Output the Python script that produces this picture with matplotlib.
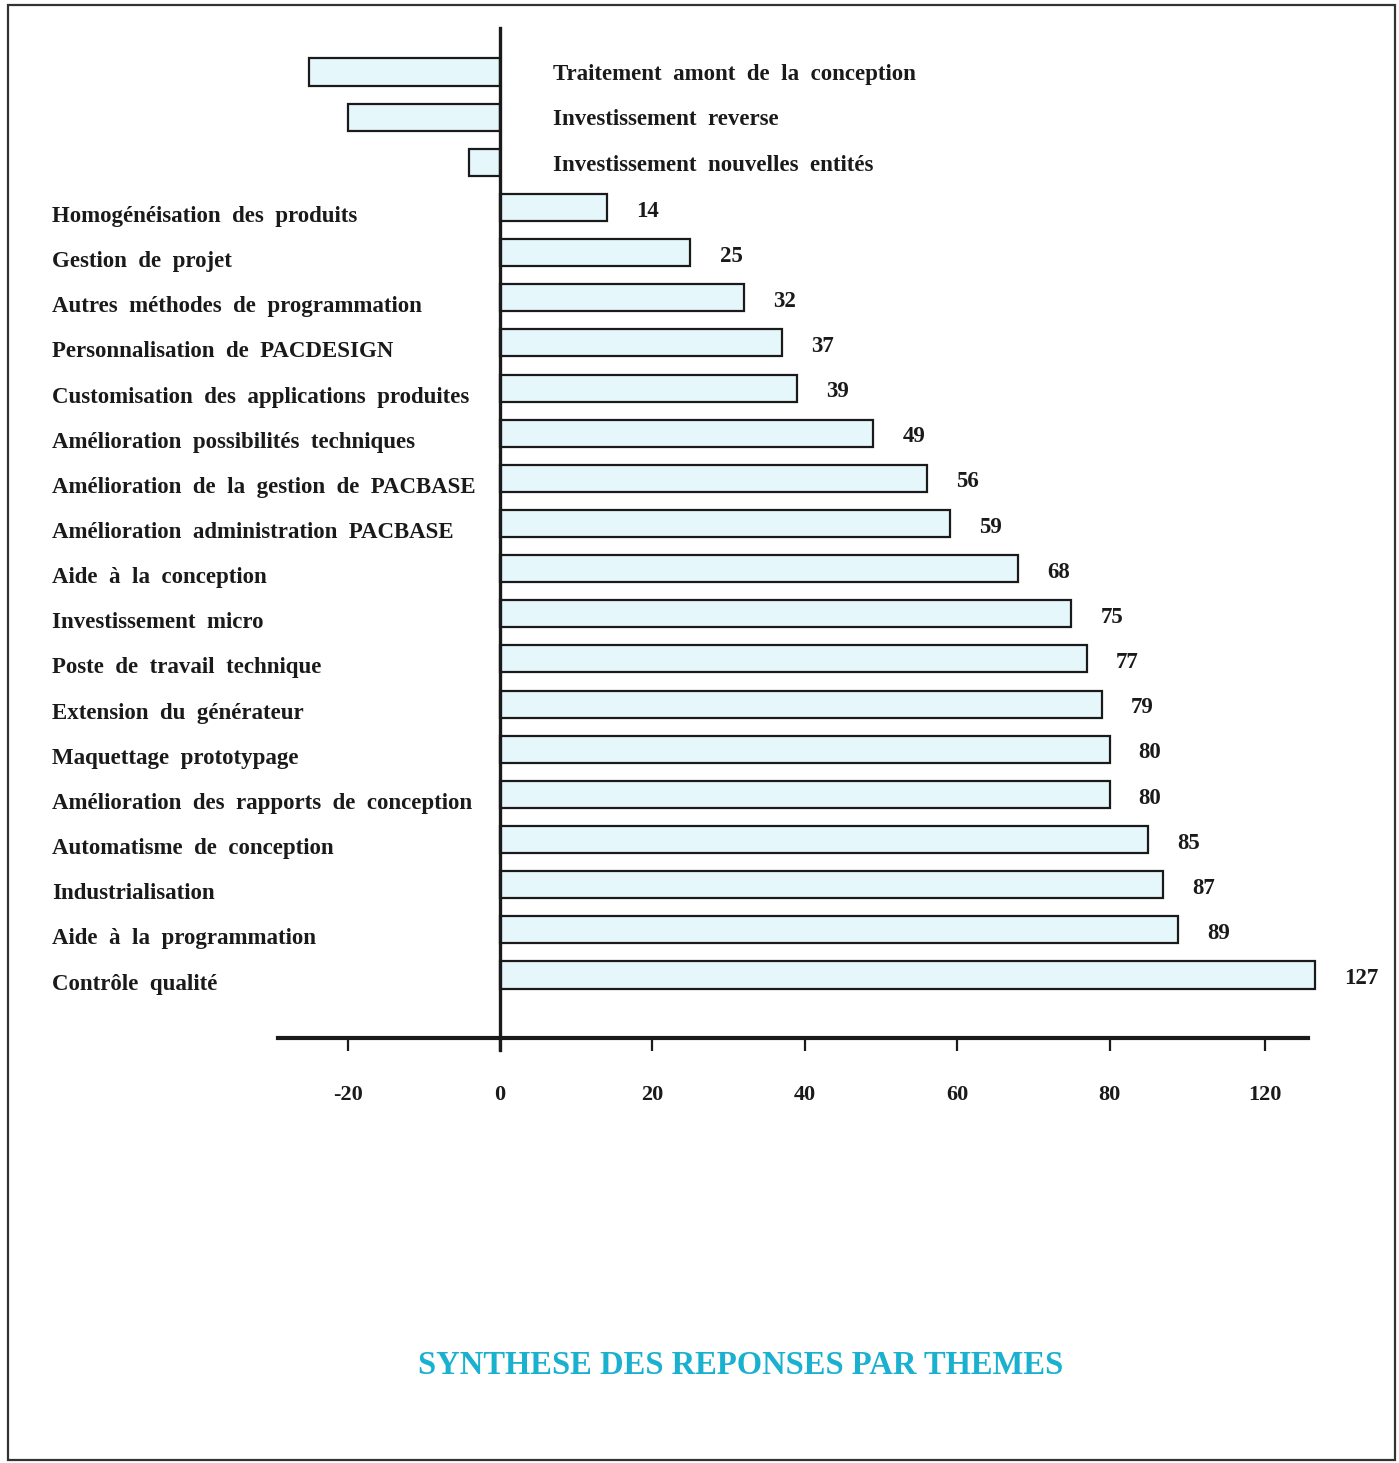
"""Synthese des reponses par themes - horizontal bar chart."""

import matplotlib

matplotlib.use("Agg")
import matplotlib.pyplot as plt
import numpy as np
from matplotlib.patches import Rectangle

# Themes, from top to bottom, and their scores.
themes = [
    "Traitement amont de la conception",
    "Investissement reverse",
    "Investissement nouvelles entités",
    "Homogénéisation des produits",
    "Gestion de projet",
    "Autres méthodes de programmation",
    "Personnalisation de PACDESIGN",
    "Customisation des applications produites",
    "Amélioration possibilités techniques",
    "Amélioration de la gestion de PACBASE",
    "Amélioration administration PACBASE",
    "Aide à la conception",
    "Investissement micro",
    "Poste de travail technique",
    "Extension du générateur",
    "Maquettage prototypage",
    "Amélioration des rapports de conception",
    "Automatisme de conception",
    "Industrialisation",
    "Aide à la programmation",
    "Contrôle qualité",
]
scores = [-25, -20, -4, 14, 25, 32, 37, 39, 49, 56, 59, 68, 75, 77, 79, 80, 80, 85, 87, 89, 127]

x_ticks = [-20, 0, 20, 40, 60, 80, 120]
title = "SYNTHESE DES REPONSES PAR THEMES"

# The original axis is squeezed past 90 (120 sits where 100 would be).
knots_data = [-60, 90, 120, 127, 200]
knots_axis = [-60, 90, 100.4, 107, 180]


def forward(x):
    return np.interp(x, knots_data, knots_axis)


def inverse(x):
    return np.interp(x, knots_axis, knots_data)


def spaced(s):
    # the typewriter-ish original uses wide word gaps
    return s.replace(" ", "  ")


SERIF = ["Liberation Serif", "DejaVu Serif"]
BAR_COLOR = "#e6f7fb"
INK = "#1a1a1a"
TITLE_COLOR = "#1ab0cf"
FS = 16.5

W, H = 1399, 1463
fig = plt.figure(figsize=(W / 100, H / 100), dpi=100)
fig.patch.set_facecolor("white")

# axes: x from 278 px to 1308 px, y from 28 px to 1038 px
ax = fig.add_axes([278 / W, 1 - 1038 / H, 1030 / W, 1010 / H])
ax.set_xscale("function", functions=(forward, inverse))
ax.set_xlim(inverse(-29.13), inverse(106.04))

rows = np.arange(len(themes))
row_px = 45.15
ax.set_ylim((1038 - 72) / row_px, (28 - 72) / row_px)

bars = ax.barh(rows, scores, height=0.6, color=BAR_COLOR, edgecolor=INK,
               linewidth=1.6, zorder=2)
for b in bars:
    b.set_clip_on(False)

# vertical zero line
ax.axvline(0, ymin=-0.012, ymax=1, color=INK, linewidth=2.4,
           clip_on=False, zorder=3)

for i, (name, val) in enumerate(zip(themes, scores)):
    if val < 0:
        ax.annotate(spaced(name), xy=(0, i + 0.06), xytext=(38, 0),
                    textcoords="offset points", ha="left", va="center",
                    fontsize=FS, fontweight="bold", family=SERIF, color=INK)
    else:
        ax.annotate(spaced(name), xy=(0, i + 0.2),
                    xycoords=("figure fraction", "data"),
                    xytext=(52 / W, 0),
                    textcoords=("figure fraction", "offset points"),
                    ha="left", va="center", fontsize=FS, fontweight="bold",
                    family=SERIF, color=INK)
        ax.annotate(str(val), xy=(val, i + 0.08), xytext=(21, 0),
                    textcoords="offset points", ha="left", va="center",
                    fontsize=FS, fontweight="bold", family=SERIF, color=INK,
                    annotation_clip=False)

for side in ["top", "right", "left"]:
    ax.spines[side].set_visible(False)
ax.spines["bottom"].set_linewidth(3)
ax.spines["bottom"].set_color(INK)
ax.set_yticks([])
ax.set_xticks(x_ticks)
ax.set_xticklabels([str(t) for t in x_ticks], family=SERIF, fontsize=16,
                   fontweight="bold", color=INK)
ax.tick_params(axis="x", direction="out", length=9, width=1.6, pad=25,
               color=INK)
ax.set_facecolor("none")

fig.text(741 / W, 1 - 1365 / H, title, ha="center", va="center", fontsize=23.5,
         fontweight="bold", family=SERIF, color=TITLE_COLOR)

# scanned page frame
fig.add_artist(Rectangle((8 / W, 1 - 1460 / H), 1387 / W, 1455 / H,
                         transform=fig.transFigure, fill=False,
                         edgecolor="#333333", linewidth=1.6))

fig.savefig("out.png", dpi=100)
